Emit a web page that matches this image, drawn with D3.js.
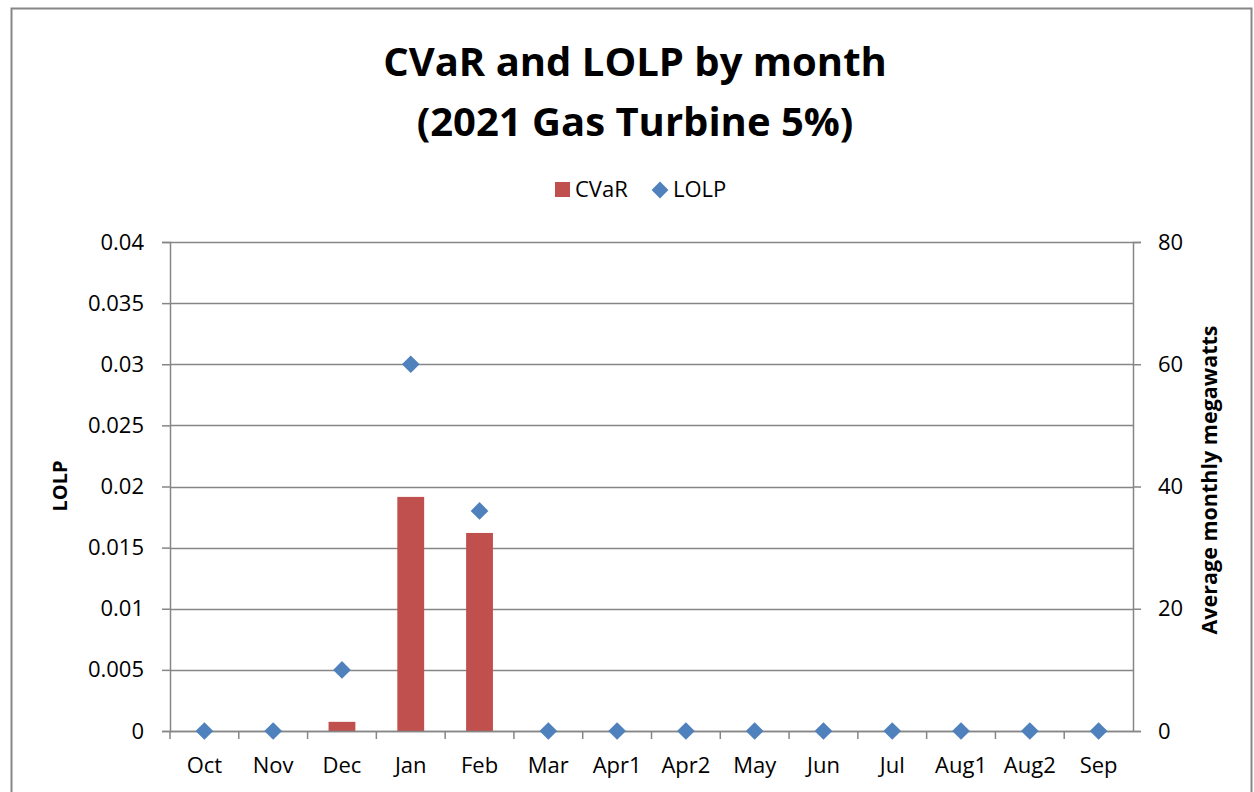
<!DOCTYPE html>
<html>
<head>
<meta charset="utf-8">
<script src="https://d3js.org/d3.v7.min.js"></script>
<style>
  body { margin: 0; background: #fff; }
  text { font-family: "Open Sans", "Liberation Sans", sans-serif; fill: #000; }
</style>
</head>
<body>
<div id="chart"></div>
<script>
var months = ["Oct", "Nov", "Dec", "Jan", "Feb", "Mar", "Apr1", "Apr2", "May", "Jun", "Jul", "Aug1", "Aug2", "Sep"];
var cvar = [0, 0, 1.5, 38.3, 32.4, 0, 0, 0, 0, 0, 0, 0, 0, 0];
var lolp = [0, 0, 0.005, 0.03, 0.018, 0, 0, 0, 0, 0, 0, 0, 0, 0];
var leftTicks = [0, 0.005, 0.01, 0.015, 0.02, 0.025, 0.03, 0.035, 0.04];
var rightTicks = [0, 20, 40, 60, 80];

var svgwidth = 1254, svgheight = 792;
var margin = { top: 242, bottom: 61, left: 170, right: 121 };
var width = svgwidth - margin.left - margin.right;
var height = svgheight - margin.top - margin.bottom;

var svg = d3.select("#chart").append("svg")
  .attr("width", svgwidth)
  .attr("height", svgheight);

// outer chart border
svg.append("rect")
  .attr("x", 11.5).attr("y", 8.5)
  .attr("width", 1240).attr("height", 800)
  .attr("fill", "none")
  .attr("stroke", "#868686")
  .attr("stroke-width", 2);

var g = svg.append("g").attr("transform", `translate(${margin.left}, ${margin.top})`);

var x = d3.scaleBand().domain(months).range([0, width]);
var yl = d3.scaleLinear().domain([0, 0.04]).range([height, 0]);
var yr = d3.scaleLinear().domain([0, 80]).range([height, 0]);

// gridlines
g.selectAll(".grid").data(leftTicks).enter().append("line")
  .attr("x1", 0).attr("x2", width)
  .attr("y1", d => Math.round(yl(d)) + 0.5).attr("y2", d => Math.round(yl(d)) + 0.5)
  .attr("stroke", "#868686").attr("stroke-width", 1.5);

// bars
var bw = x.bandwidth() * 0.39;
g.selectAll(".bar").data(cvar).enter().append("rect")
  .attr("x", (d, i) => x(months[i]) + (x.bandwidth() - bw) / 2)
  .attr("y", d => yr(d))
  .attr("width", bw)
  .attr("height", d => height - yr(d))
  .attr("fill", "#C0504D");

// axes
var leftAxis = d3.axisLeft(yl).tickValues(leftTicks).tickSize(8).tickPadding(18)
  .tickFormat(d => d === 0 ? "0" : String(+d.toFixed(3)));
var gl = g.append("g").call(leftAxis);

var rightAxis = d3.axisRight(yr).tickValues(rightTicks).tickSize(8).tickPadding(17);
var gr = g.append("g").attr("transform", `translate(${width},0)`).call(rightAxis);

var bottomAxis = d3.axisBottom(x).tickSize(0).tickPadding(26);
var gb = g.append("g").attr("transform", `translate(0,${height})`).call(bottomAxis);

// category separator ticks
g.selectAll(".ctick").data(months.slice(1)).enter().append("line")
  .attr("x1", d => x(d)).attr("x2", d => x(d))
  .attr("y1", height).attr("y2", height + 8)
  .attr("stroke", "#868686").attr("stroke-width", 1.5);
g.append("line").attr("x1", 0).attr("x2", 0).attr("y1", height).attr("y2", height + 8)
  .attr("stroke", "#868686").attr("stroke-width", 1.5);

[gl, gr, gb].forEach(function(a) {
  a.selectAll(".domain").attr("stroke", "#868686").attr("stroke-width", 1.5);
  a.selectAll(".tick line").attr("stroke", "#868686").attr("stroke-width", 1.5);
  a.selectAll("text").style("font-size", "22px").attr("fill", "#000");
});
gb.select(".domain").remove();
g.append("line").attr("x1", 0).attr("x2", width).attr("y1", height + 0.5).attr("y2", height + 0.5)
  .attr("stroke", "#868686").attr("stroke-width", 1.5);

// diamonds
var diamond = d3.symbol().type(d3.symbolDiamond2).size(200);
g.selectAll(".pt").data(lolp).enter().append("path")
  .attr("d", diamond)
  .attr("transform", (d, i) => `translate(${x(months[i]) + x.bandwidth() / 2},${yl(d)})`)
  .attr("fill", "#4F81BD");

// titles
svg.append("text").attr("x", 635).attr("y", 76).attr("text-anchor", "middle")
  .style("font-size", "40px").style("font-weight", "bold").text("CVaR and LOLP by month");
svg.append("text").attr("x", 635).attr("y", 136).attr("text-anchor", "middle")
  .style("font-size", "40px").style("font-weight", "bold").text("(2021 Gas Turbine 5%)");

svg.append("text").attr("transform", "translate(67,486) rotate(-90)").attr("text-anchor", "middle")
  .style("font-size", "20px").style("font-weight", "bold").text("LOLP");
svg.append("text").attr("transform", "translate(1217,480) rotate(-90)").attr("text-anchor", "middle")
  .style("font-size", "21.5px").style("font-weight", "bold").text("Average monthly megawatts");

// legend
var lg = svg.append("g");
lg.append("rect").attr("x", 555).attr("y", 182).attr("width", 15).attr("height", 15).attr("fill", "#C0504D");
lg.append("text").attr("x", 575).attr("y", 197).style("font-size", "22px").text("CVaR");
lg.append("path").attr("d", d3.symbol().type(d3.symbolDiamond2).size(180))
  .attr("transform", "translate(660,190)").attr("fill", "#4F81BD");
lg.append("text").attr("x", 673).attr("y", 197).style("font-size", "22px").text("LOLP");
</script>
</body>
</html>
